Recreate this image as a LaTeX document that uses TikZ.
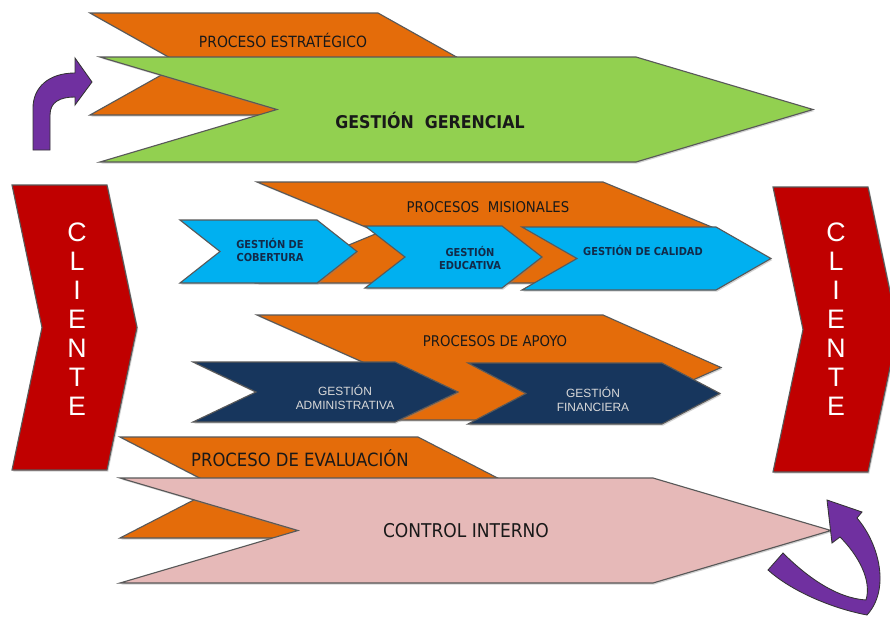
\documentclass[tikz,border=0pt]{standalone}
\usepackage{fontspec}
\setmainfont{DejaVu Sans Condensed}
\newfontfamily\letraCliente{Liberation Sans}
\usepackage{xcolor}
\usepackage{tikz}
\usetikzlibrary{shadows}
\definecolor{naranja}{RGB}{228,108,10}
\definecolor{verde}{RGB}{146,208,80}
\definecolor{rojo}{RGB}{192,0,0}
\definecolor{celeste}{RGB}{0,176,240}
\definecolor{marino}{RGB}{23,54,93}
\definecolor{rosa}{RGB}{230,185,184}
\definecolor{morado}{RGB}{112,48,160}
\tikzset{
    bloque/.style={
        draw=black!65,
        line width=0.8pt,
        line join=miter,
        drop shadow={shadow xshift=0.9pt, shadow yshift=-1.1pt, opacity=0.35}
    },
    franja/.style={bloque, fill=naranja},
    gerencia/.style={bloque, fill=verde},
    cliente/.style={bloque, fill=rojo},
    misional/.style={bloque, fill=celeste},
    apoyo/.style={bloque, fill=marino},
    control/.style={bloque, fill=rosa},
    giro/.style={fill=morado, draw=black!80, line width=0.6pt},
    etiqueta/.style={inner sep=0pt, text=black!90, align=center},
    cajaTexto/.style={inner sep=0pt, align=center, font=\bfseries\fontsize{7.8}{9.5}\selectfont, text=marino!80!black},
    cajaClara/.style={inner sep=0pt, align=center, font=\letraCliente\fontsize{8.5}{10}\selectfont, text=white!85!black},
    letra/.style={inner sep=0pt, text=white, font=\letraCliente\fontsize{19}{19}\selectfont}
}
% flecha con muesca: estilo, x izq, y sup, x der, y inf, profundidad
\newcommand{\flecha}[6]{%
    \path[#1] (#2,#3) -- (#4,#3) -- ({#4+#6},{(#3+#5)/2}) -- (#4,#5)
        -- (#2,#5) -- ({#2+#6},{(#3+#5)/2}) -- cycle;}

\begin{document}
\begin{tikzpicture}[x=0.025cm, y=-0.025cm]
    \useasboundingbox[fill=white] (0,0) rectangle (890,618);

    % nivel estrategico
    \flecha{franja}{90}{13}{378}{115}{91}
    \flecha{gerencia}{100}{57}{636}{162}{177}
    \node[etiqueta, font=\fontsize{11}{13}\selectfont] (tEstrategico) at (283,40) {PROCESO ESTRATÉGICO};
    \node[etiqueta, font=\bfseries\fontsize{12.5}{14}\selectfont] (tGerencial) at (430,120) {GESTIÓN\ \ GERENCIAL};
    \path[giro] (33,150) -- (33,108) .. controls (33,88) and (48,73) .. (75,73)
        -- (75,58) -- (92,82) -- (75,105) -- (75,97)
        .. controls (60,97) and (50,102) .. (50,115) -- (50,150) -- cycle;

    % clientes a ambos lados
    \flecha{cliente}{12}{185}{107}{470}{30}
    \flecha{cliente}{773}{187}{868}{472}{30}
    \foreach \l [count=\i from 0] in {C,L,I,E,N,T,E} {
        \node[letra] (cIzq\i) at (77,{232+29*\i}) {\l};
        \node[letra] (cDer\i) at (836,{232+29*\i}) {\l};
    }

    % procesos misionales
    \flecha{franja}{257}{182}{603}{283}{122}
    \node[etiqueta, font=\fontsize{10.5}{12}\selectfont] (tMisionales) at (488,207) {PROCESOS\ \ MISIONALES};
    \flecha{misional}{180}{220}{317}{283}{40}
    \flecha{misional}{365}{226}{502}{288}{40}
    \flecha{misional}{522}{227}{716}{290}{55}
    \node[cajaTexto] (cobertura) at (270,250) {GESTIÓN DE\\COBERTURA};
    \node[cajaTexto] (educativa) at (470,258) {GESTIÓN\\EDUCATIVA};
    \node[cajaTexto] (calidad) at (643,250) {GESTIÓN DE CALIDAD};

    % procesos de apoyo
    \flecha{franja}{257}{315}{603}{420}{118}
    \node[etiqueta, font=\fontsize{10.5}{12}\selectfont] (tApoyo) at (495,341) {PROCESOS DE APOYO};
    \flecha{apoyo}{193}{362}{395}{422}{63}
    \flecha{apoyo}{468}{363}{662}{424}{58}
    \node[cajaClara] (administrativa) at (345,397) {GESTIÓN\\ADMINISTRATIVA};
    \node[cajaClara] (financiera) at (593,399) {GESTIÓN\\FINANCIERA};

    % evaluacion
    \flecha{franja}{120}{437}{418}{538}{98}
    \flecha{control}{120}{478}{653}{583}{178}
    \node[etiqueta, font=\fontsize{13}{15}\selectfont] (tEvaluacion) at (300,458) {PROCESO DE EVALUACIÓN};
    \node[etiqueta, font=\fontsize{13.5}{15}\selectfont] (tControl) at (466,531) {CONTROL INTERNO};
    \path[giro] (783,553) .. controls (805,575) and (835,598) .. (866,600)
        .. controls (872,580) and (858,555) .. (840,537)
        -- (832,543) -- (827,500) -- (862,512) -- (857,518)
        .. controls (880,545) and (890,590) .. (867,615)
        .. controls (830,608) and (790,590) .. (768,570) -- cycle;
\end{tikzpicture}
\end{document}
